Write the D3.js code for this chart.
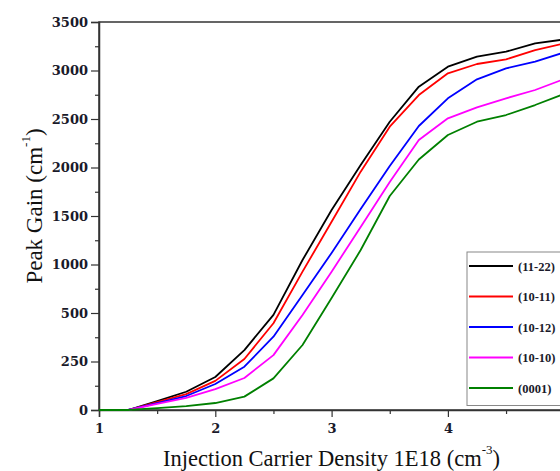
<!DOCTYPE html>
<html><head><meta charset="utf-8">
<script src="https://cdn.jsdelivr.net/npm/d3@7"></script>
<style>body{margin:0;background:#fff;overflow:hidden}svg{display:block}</style>
</head><body>
<svg id="chart" width="560" height="471"></svg>
<script>
const xValues = [1,1.25,1.5,1.75,2,2.25,2.5,2.75,3,3.25,3.5,3.75,4,4.25,4.5,4.75,5];
const gain1122 = [0,0,46,94,170,309,490,1046,1562,2026,2472,2833,3039,3142,3194,3280,3320];
const gain1011 = [0,0,41,82,150,263,447,926,1441,1957,2421,2747,2971,3067,3115,3211,3280];
const gain1012 = [0,0,36,72,134,223,378,686,1119,1572,2015,2428,2713,2909,3022,3091,3186];
const gain1010 = [0,0,31,62,108,165,283,490,926,1387,1851,2284,2507,2620,2713,2799,2912];
const gain0001 = [0,0,10,20,36,69,163,335,655,1149,1706,2082,2335,2472,2541,2644,2758];
const seriesNames = ["(11-22)","(10-11)","(10-12)","(10-10)","(0001)"];
const seriesColors = ["#000000","#ff0000","#0000ff","#ff00ff","#008000"];
const seriesValues = [gain1122,gain1011,gain1012,gain1010,gain0001];
const yTickValues = [0,250,500,1000,1500,2000,2500,3000,3500];
const yMinorValues = [125,375,750,1250,1750,2250,2750,3250];
const xTickValues = [1,2,3,4,5];
const xMinorValues = [1.5,2.5,3.5,4.5];

(function(){
const svg = d3.select("#chart");
const mLeft = 99, mRight = 564.2, mTop = 22, mBottom = 410;
const x = d3.scaleLinear().domain([1,5]).range([mLeft,mRight]);
const yRange = yTickValues.map((d,i)=> mBottom - i*(mBottom-mTop)/(yTickValues.length-1));
const y = d3.scaleLinear().domain(yTickValues).range(yRange);

const tickFont = "'DejaVu Serif', serif";
const axisColor = "#333";

svg.append("rect").attr("x",mLeft).attr("y",mTop).attr("width",mRight-mLeft).attr("height",mBottom-mTop)
  .attr("fill","none").attr("stroke",axisColor).attr("stroke-width",1.5);

const yAxis = d3.axisLeft(y).tickValues(yTickValues).tickSize(8).tickPadding(3).tickFormat(d=>String(d));
const gy = svg.append("g").attr("transform",`translate(${mLeft},0)`).call(yAxis);
gy.select(".domain").attr("stroke",axisColor).attr("stroke-width",1.5);
gy.selectAll(".tick line").attr("stroke",axisColor).attr("stroke-width",1.2);
gy.selectAll(".tick text").attr("font-family",tickFont).attr("font-weight","bold").attr("font-size",13).attr("fill","#1a1a2a");
const gyMinor = svg.append("g").attr("transform",`translate(${mLeft},0)`)
  .call(d3.axisLeft(y).tickValues(yMinorValues).tickSize(4).tickFormat(""));
gyMinor.select(".domain").remove();
gyMinor.selectAll(".tick line").attr("stroke",axisColor).attr("stroke-width",1.2);

const xAxis = d3.axisBottom(x).tickValues(xTickValues).tickSize(7).tickPadding(7).tickFormat(d3.format("d"));
const gx = svg.append("g").attr("transform",`translate(0,${mBottom})`).call(xAxis);
gx.select(".domain").attr("stroke",axisColor).attr("stroke-width",1.5);
gx.selectAll(".tick line").attr("stroke",axisColor).attr("stroke-width",1.2);
gx.selectAll(".tick text").attr("font-family",tickFont).attr("font-weight","bold").attr("font-size",13).attr("fill","#1a1a2a");
const gxMinor = svg.append("g").attr("transform",`translate(0,${mBottom})`)
  .call(d3.axisBottom(x).tickValues(xMinorValues).tickSize(4).tickFormat(""));
gxMinor.select(".domain").remove();
gxMinor.selectAll(".tick line").attr("stroke",axisColor).attr("stroke-width",1.2);

const line = d3.line().x((d,i)=>x(xValues[i])).y(d=>y(d));
seriesValues.forEach((vals,k)=>{
  svg.append("path").datum(vals).attr("d",line).attr("fill","none")
    .attr("stroke",seriesColors[k]).attr("stroke-width",1.8).attr("stroke-linejoin","round");
});

const titleFont = "'Liberation Serif', serif";
const xt = svg.append("text").attr("x",(163+500)/2).attr("y",466).attr("text-anchor","middle")
  .attr("font-family",titleFont).attr("font-size",22.5).attr("fill","#111");
xt.append("tspan").text("Injection Carrier Density 1E18 (cm");
xt.append("tspan").attr("dy",-12).attr("font-size",13).text("-3");
xt.append("tspan").attr("dy",12).text(")");

const yt = svg.append("text").attr("transform","translate(42,206) rotate(-90)").attr("text-anchor","middle")
  .attr("font-family",titleFont).attr("font-size",23).attr("fill","#111");
yt.append("tspan").text("Peak Gain (cm");
yt.append("tspan").attr("dy",-12).attr("font-size",13).text("-1");
yt.append("tspan").attr("dy",12).text(")");

const lg = svg.append("g");
lg.append("rect").attr("x",467).attr("y",252).attr("width",140).attr("height",153.5)
  .attr("fill","#fff").attr("stroke","#888").attr("stroke-width",1);
seriesNames.forEach((name,k)=>{
  const yy = 266 + k*30.5;
  lg.append("line").attr("x1",469).attr("x2",513).attr("y1",yy).attr("y2",yy)
    .attr("stroke",seriesColors[k]).attr("stroke-width",1.8);
  lg.append("text").attr("x",518).attr("y",yy+4.5).attr("font-family","'Liberation Serif', serif").attr("font-weight","bold")
    .attr("font-size",12.5).attr("fill","#1a1a2a").text(name);
});
})();
</script>
</body></html>
